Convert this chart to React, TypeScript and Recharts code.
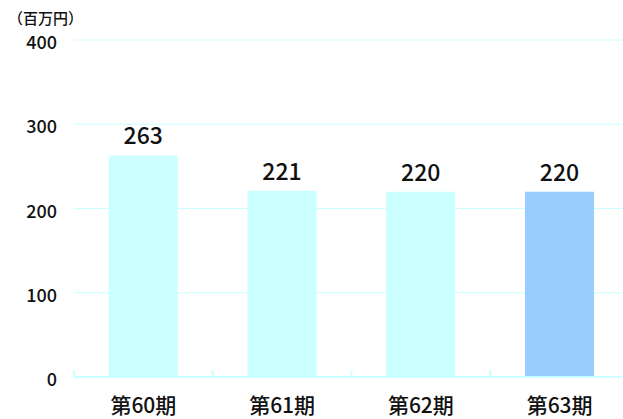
import { BarChart, Bar, XAxis, YAxis, CartesianGrid, LabelList, Cell } from "recharts";

const periods = ["第60期", "第61期", "第62期", "第63期"];
const amounts = [263, 221, 220, 220];
const barColors = ["#ccffff", "#ccffff", "#ccffff", "#99ccff"];
const yTicks = [0, 100, 200, 300, 400];

const data = periods.map((p, i) => ({ name: p, value: amounts[i] }));

const FONT = "'Noto Sans CJK JP', 'Noto Sans', sans-serif";

const PeriodTick = (props: any) => {
  const { x, y, payload } = props;
  const edge = x - (payload.offset ?? 0);
  return (
    <g>
      <line x1={edge} x2={edge} y1={y} y2={y - 7} stroke="#ccffff" strokeWidth={2} />
      <text x={x} y={y} dy={36} textAnchor="middle" fontSize={21} fontWeight={500} fill="#111" fontFamily={FONT}>
        {payload.value}
      </text>
    </g>
  );
};

const AmountTick = (props: any) => {
  const { x, y, payload } = props;
  return (
    <text x={x} y={y} dy={9} textAnchor="end" fontSize={18} fontWeight={500} fill="#111" fontFamily={FONT}>
      {payload.value}
    </text>
  );
};

export default function App() {
  return (
    <div style={{ position: "absolute", left: 0, top: 0, width: 623, height: 419, overflow: "hidden", background: "#fff" }}>
      <div style={{ position: "absolute", left: 8, top: 9, fontSize: 15, fontWeight: 500, fontFamily: FONT, color: "#111", lineHeight: "18px", whiteSpace: "nowrap" }}>
        （百万円）
      </div>
      <BarChart width={629} height={419} data={data} margin={{ top: 40, right: 0, bottom: 0, left: 0 }} barCategoryGap="25%">
        <CartesianGrid vertical={false} stroke="#ccffff" />
        <XAxis
          dataKey="name"
          height={42}
          axisLine={{ stroke: "#ccffff", strokeWidth: 2 }}
          tickLine={false}
          tickSize={0}
          tickMargin={0}
          tick={<PeriodTick />}
          interval={0}
        />
        <YAxis
          width={74}
          domain={[0, 400]}
          ticks={yTicks}
          axisLine={false}
          tickLine={false}
          tickMargin={11}
          tick={<AmountTick />}
        />
        <Bar dataKey="value" isAnimationActive={false}>
          {data.map((d, i) => (
            <Cell key={d.name} fill={barColors[i]} />
          ))}
          <LabelList dataKey="value" position="top" offset={11} fontSize={23} fontWeight={500} fill="#111" fontFamily={FONT} />
        </Bar>
      </BarChart>
    </div>
  );
}
